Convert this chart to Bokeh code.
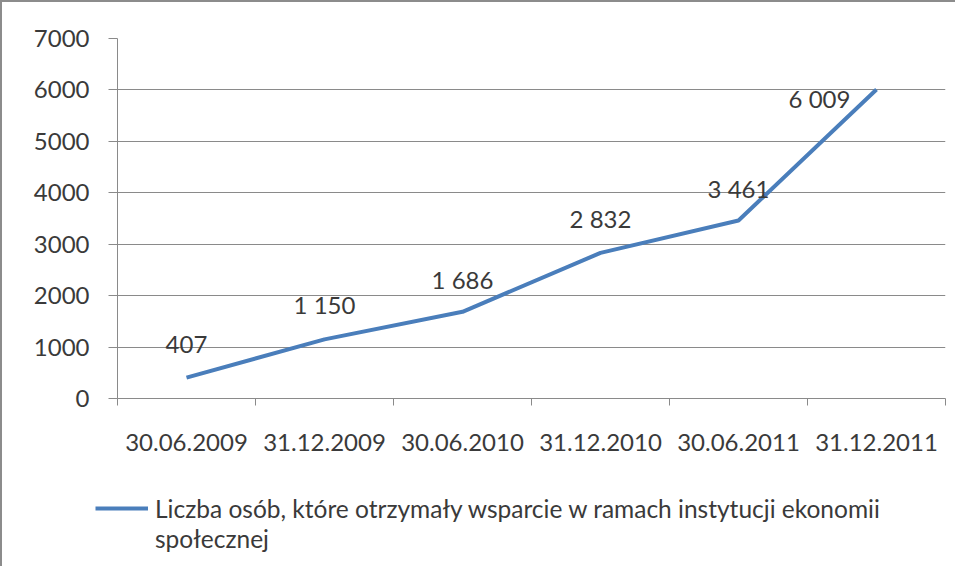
from bokeh.plotting import figure
from bokeh.models import Range1d, FixedTicker, Legend, LegendItem
from bokeh.core.properties import value
from bokeh.embed import file_html
from bokeh.resources import INLINE

categories = ["30.06.2009", "31.12.2009", "30.06.2010", "31.12.2010", "30.06.2011", "31.12.2011"]
values = [407, 1150, 1686, 2832, 3461, 6009]
y_ticks = [0, 1000, 2000, 3000, 4000, 5000, 6000, 7000]
series_name_line1 = "Liczba osób, które otrzymały wsparcie w ramach instytucji ekonomii"
series_name_line2 = "społecznej"

# label placement (style only)
label_dx = [0, 0, 0, 0, 0, -57]
label_dy = [-33, -35, -32, -34, -32, 9]

xs = [i + 0.5 for i in range(len(categories))]
value_labels = [f"{v:,}".replace(",", " ") for v in values]

FONT = "Lato"
TXT = "#3a3a3a"
GRID = "#8a8a8a"
BLUE = "#4a7ebb"
FRAME = "2px solid #8c8c8c"

p = figure(width=955, height=466, output_backend="svg", toolbar_location=None,
           x_range=Range1d(0, len(categories)), y_range=Range1d(0, 7000),
           min_border_left=115, min_border_right=12, min_border_top=36, min_border_bottom=70)
p.styles = {"border-left": FRAME, "border-top": FRAME}
p.outline_line_color = None
p.background_fill_color = "white"
p.border_fill_color = "white"

p.xgrid.visible = False
p.ygrid.ticker = FixedTicker(ticks=y_ticks)
p.ygrid.grid_line_color = GRID
p.ygrid.grid_line_width = 1

p.yaxis.ticker = FixedTicker(ticks=y_ticks)
p.yaxis.axis_line_color = GRID
p.yaxis.major_tick_line_color = GRID
p.yaxis.major_tick_out = 9
p.yaxis.major_tick_in = 0
p.yaxis.minor_tick_line_color = None
p.yaxis.major_label_standoff = 19
p.yaxis.major_label_text_font = FONT
p.yaxis.major_label_text_font_size = "24px"
p.yaxis.major_label_text_color = TXT

p.xaxis.ticker = FixedTicker(ticks=xs, minor_ticks=list(range(len(categories) + 1)))
p.xaxis.major_label_overrides = {x: c for x, c in zip(xs, categories)}
p.xaxis.axis_line_color = GRID
p.xaxis.major_tick_line_color = None
p.xaxis.major_tick_out = 0
p.xaxis.major_tick_in = 0
p.xaxis.minor_tick_line_color = GRID
p.xaxis.minor_tick_out = 7
p.xaxis.minor_tick_in = 0
p.xaxis.major_label_standoff = 28
p.xaxis.major_label_text_font = FONT
p.xaxis.major_label_text_font_size = "24px"
p.xaxis.major_label_text_color = TXT

p.line(xs, values, line_color=BLUE, line_width=4)

p.text(x=xs, y=values, text=value_labels, x_offset=label_dx, y_offset=label_dy,
       text_align="center", text_baseline="middle", text_font=value(FONT),
       text_font_size="24px", text_color=TXT)

# legend strip below the chart (separate root, so its frame is not aligned to the chart's)
p2 = figure(width=955, height=100, output_backend="svg", toolbar_location=None,
            x_range=Range1d(0, 1), y_range=Range1d(0, 1),
            x_axis_location=None, y_axis_location=None, min_border=0)
p2.styles = {"border-left": FRAME}
p2.grid.visible = False
p2.outline_line_color = None
p2.background_fill_color = "white"
p2.border_fill_color = "white"
l1 = p2.line(xs, values, line_color=BLUE, line_width=4, visible=False)
l2 = p2.line(xs, values, line_alpha=0, visible=False)
legend = Legend(items=[LegendItem(label=series_name_line1, renderers=[l1]),
                       LegendItem(label=series_name_line2, renderers=[l2])],
                location=(93, 13), glyph_width=53, glyph_height=30, label_height=30,
                label_standoff=7, spacing=0, padding=0, margin=0, click_policy="none",
                border_line_alpha=0, background_fill_alpha=0,
                label_text_font=FONT, label_text_font_size="24.5px", label_text_color=TXT)
p2.add_layout(legend)

open("out.html", "w").write(file_html([p, p2], INLINE))
